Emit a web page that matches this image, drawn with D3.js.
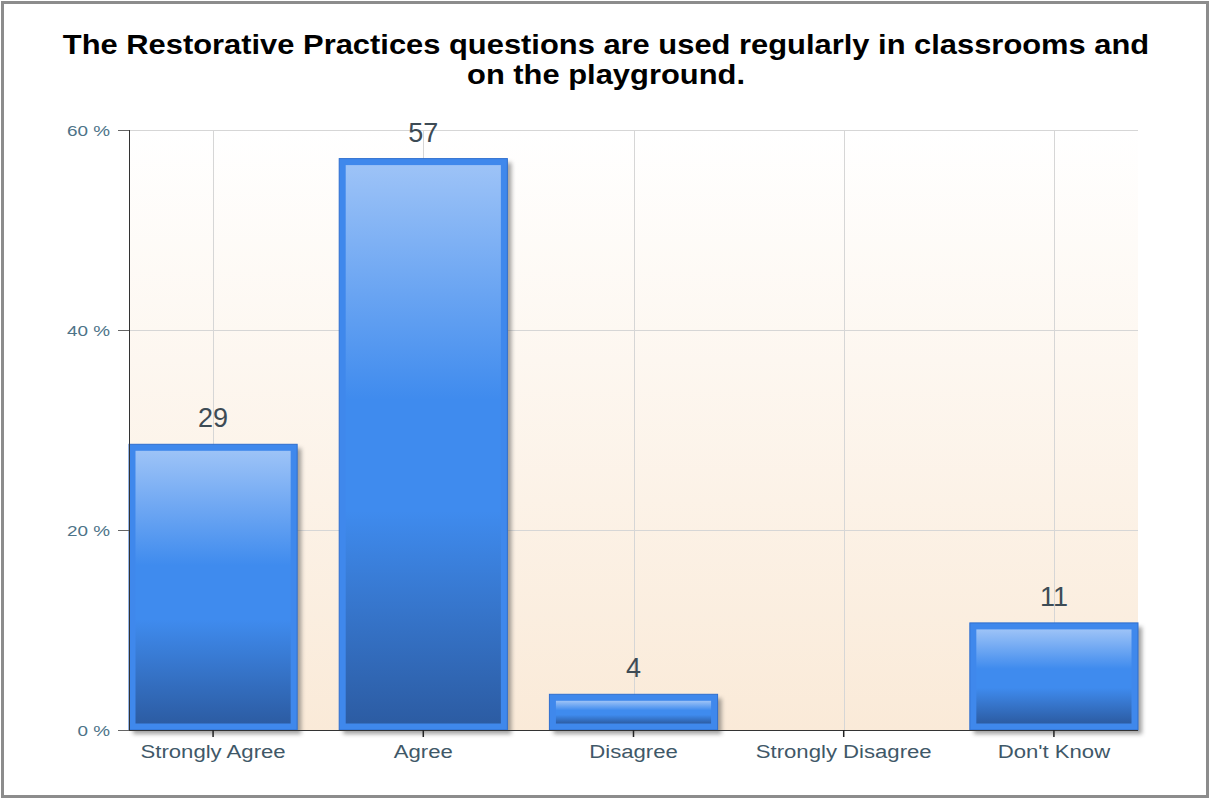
<!DOCTYPE html>
<html><head><meta charset="utf-8">
<script src="https://cdn.jsdelivr.net/npm/d3@7"></script>
<style>body{margin:0;background:#fff;}svg{display:block;}</style>
</head><body>
<svg id="c" width="1210" height="799"></svg>
<script>
const categories = ["Strongly Agree", "Agree", "Disagree", "Strongly Disagree", "Don't Know"];
const values = [28.57, 57.14, 3.57, 0, 10.71];
const valueLabels = ["29", "57", "4", "", "11"];
const yTicks = [0, 20, 40, 60];
const titleLines = ["The Restorative Practices questions are used regularly in classrooms and", "on the playground."];

const svg = d3.select("#c");
const W = 1210, H = 799;
const m = {l:129, r:1138, t:130, b:730};
const FONT = "Liberation Sans, Arial, sans-serif";

const defs = svg.append("defs");
const bg = defs.append("linearGradient").attr("id","bg").attr("x1",0).attr("y1",0).attr("x2",0).attr("y2",1);
bg.append("stop").attr("offset","0%").attr("stop-color","#ffffff");
bg.append("stop").attr("offset","100%").attr("stop-color","#faead8");
const bar = defs.append("linearGradient").attr("id","bar").attr("x1",0).attr("y1",0).attr("x2",0).attr("y2",1);
[[0,"#9dc3f7"],[0.42,"#3f8bee"],[0.62,"#3f8bee"],[1,"#2c5ca3"]].forEach(([o,c])=>bar.append("stop").attr("offset",o).attr("stop-color",c));
const sh = defs.append("filter").attr("id","sh").attr("x","-10%").attr("y","-10%").attr("width","130%").attr("height","130%");
sh.append("feGaussianBlur").attr("stdDeviation",2);

// outer border
svg.append("rect").attr("x",2.5).attr("y",2.5).attr("width",W-5).attr("height",H-5)
  .attr("fill","#fff").attr("stroke","#8c8c8c").attr("stroke-width",3);

// title (stretched horizontally like the reference)
const tg = svg.append("g");
const tt = tg.selectAll("text").data(titleLines).join("text")
  .attr("x",0).attr("y",0).attr("text-anchor","middle")
  .attr("font-family",FONT).attr("font-weight","bold")
  .attr("font-size",27).attr("fill","#000").text(d=>d);
const len0 = tt.nodes()[0].getComputedTextLength();
const tsx = 1087/len0;
tt.attr("transform",(d,i)=>`translate(606,${54+i*30}) scale(${tsx},1)`);

const x = d3.scaleBand().domain(categories).range([m.l,m.r]).paddingInner(0.2).paddingOuter(0);
const y = d3.scaleLinear().domain([0,60]).range([m.b,m.t]);

// plot bg
svg.append("rect").attr("x",m.l).attr("y",m.t).attr("width",m.r-m.l).attr("height",m.b-m.t).attr("fill","url(#bg)");

// grid
svg.append("g").selectAll("line").data(yTicks.filter(d=>d>0)).join("line")
  .attr("x1",m.l).attr("x2",m.r).attr("y1",d=>y(d)+0.5).attr("y2",d=>y(d)+0.5)
  .attr("stroke","#d6d6d6").attr("stroke-width",1);
svg.append("g").selectAll("line").data(categories).join("line")
  .attr("x1",d=>Math.round(x(d)+x.bandwidth()/2)+0.5).attr("x2",d=>Math.round(x(d)+x.bandwidth()/2)+0.5)
  .attr("y1",m.t).attr("y2",m.b).attr("stroke","#d6d6d6").attr("stroke-width",1);

// bars
const data = categories.map((c,i)=>({c, v:values[i], l:valueLabels[i]})).filter(d=>d.v>0);
const g = svg.append("g");
g.selectAll("rect.sh").data(data).join("rect").attr("class","sh")
  .attr("x",d=>x(d.c)+4).attr("y",d=>y(d.v)+4).attr("width",x.bandwidth()).attr("height",d=>m.b-y(d.v))
  .attr("fill","#555").attr("opacity",0.55).attr("filter","url(#sh)");
g.selectAll("rect.o").data(data).join("rect").attr("class","o")
  .attr("x",d=>x(d.c)).attr("y",d=>y(d.v)).attr("width",x.bandwidth()).attr("height",d=>m.b-y(d.v))
  .attr("fill","#3f88ec").attr("stroke","#2f6fcf").attr("stroke-width",1);
g.selectAll("rect.i").data(data).join("rect").attr("class","i")
  .attr("x",d=>x(d.c)+6.5).attr("y",d=>y(d.v)+6.5).attr("width",x.bandwidth()-13).attr("height",d=>Math.max(0,m.b-y(d.v)-13))
  .attr("fill","url(#bar)");
g.selectAll("text").data(data).join("text")
  .attr("x",d=>x(d.c)+x.bandwidth()/2).attr("y",d=>y(d.v)-17).attr("text-anchor","middle")
  .attr("font-family",FONT).attr("font-size",27).attr("fill","#3d4b55").text(d=>d.l);

// axes
const ya = svg.append("g").attr("transform",`translate(${m.l},0)`)
  .call(d3.axisLeft(y).tickValues(yTicks).tickSize(11).tickPadding(8).tickFormat(d=>d+" %"));
ya.select(".domain").attr("stroke","#333").attr("d",`M0.5,${m.t}V${m.b}`);
ya.selectAll(".tick line").attr("stroke","#666");
ya.selectAll("text").attr("font-family",FONT).attr("font-size",15.5).attr("fill","#4d7388")
  .attr("x",0).attr("dy",null).attr("transform","translate(-19,5.5) scale(1.22,1)");

const xa = svg.append("g").attr("transform",`translate(0,${m.b})`)
  .call(d3.axisBottom(x).tickSize(7).tickPadding(5));
xa.select(".domain").attr("stroke","#333").attr("d",`M${m.l},0.5H${m.r}`);
xa.selectAll(".tick line").attr("stroke","#222").attr("stroke-width",1.5);
xa.selectAll("text").attr("font-family",FONT).attr("font-size",18).attr("fill","#3f5868")
  .attr("y",0).attr("dy",null).attr("transform","translate(0,27.5) scale(1.23,1)");
</script>
</body></html>
